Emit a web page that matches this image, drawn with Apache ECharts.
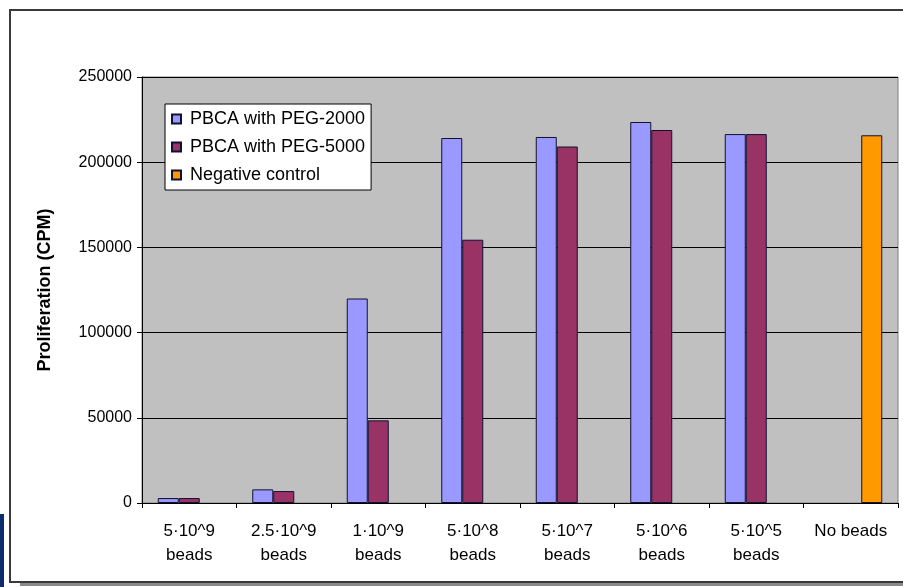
<!DOCTYPE html>
<html>
<head>
<meta charset="utf-8">
<script src="https://cdn.jsdelivr.net/npm/echarts@6/dist/echarts.min.js"></script>
<style>
  html, body { margin: 0; padding: 0; background: #ffffff; }
  #chart { width: 903px; height: 587px; }
</style>
</head>
<body>
<div id="chart"></div>
<script>
// Bead doses on the x axis
const categories = [
  '5·10^9\nbeads', '2.5·10^9\nbeads', '1·10^9\nbeads', '5·10^8\nbeads',
  '5·10^7\nbeads', '5·10^6\nbeads', '5·10^5\nbeads', 'No beads'
];
// Proliferation (CPM) per dose
const peg2000 = [2900, 8000, 120000, 214200, 214800, 223600, 216500, null];
const peg5000 = [2900, 7000, 48500, 154500, 209200, 218900, 216500, null];
const negativeControl = [null, null, null, null, null, null, null, 215800];
const yTicks = { min: 0, max: 250000, interval: 50000 };

const FONT = '"Liberation Sans", Arial, sans-serif';

const chart = echarts.init(document.getElementById('chart'), null, { renderer: 'canvas' });

const barBorder = { borderColor: '#101030', borderWidth: 1 };

chart.setOption({
  backgroundColor: '#ffffff',
  animation: false,
  textStyle: { fontFamily: FONT },
  graphic: [
    // drop shadow under the chart frame
    { type: 'rect', shape: { x: 20, y: 582, width: 900, height: 4 }, style: { fill: '#8a8a8a' }, z: -2 },
    // chart frame
    { type: 'rect', shape: { x: 10, y: 10, width: 910, height: 572 },
      style: { fill: '#ffffff', stroke: '#3a3a3a', lineWidth: 2 }, z: -1 },
    // slide accent on the left edge
    { type: 'rect', shape: { x: 0, y: 514, width: 4, height: 73 }, style: { fill: '#0c2d6b' }, z: 1 }
  ],
  grid: {
    left: 142, right: 5, top: 77, bottom: 84,
    show: true, backgroundColor: '#c0c0c0', borderColor: '#808080', borderWidth: 1
  },
  legend: {
    orient: 'vertical',
    left: 165, top: 104,
    backgroundColor: '#ffffff',
    borderColor: '#000000', borderWidth: 1,
    padding: [5, 6, 5, 6],
    itemWidth: 9, itemHeight: 9, itemGap: 8,
    icon: 'rect',
    textStyle: { fontFamily: FONT, fontSize: 18, color: '#000000', lineHeight: 20, padding: [0, 0, 0, 4] },
    data: ['PBCA with PEG-2000', 'PBCA with PEG-5000', 'Negative control']
  },
  xAxis: {
    type: 'category',
    data: categories,
    axisLine: { lineStyle: { color: '#000000', width: 1 } },
    axisTick: { show: true, length: 5, lineStyle: { color: '#000000' } },
    axisLabel: { interval: 0, fontFamily: FONT, fontSize: 17, color: '#000000', lineHeight: 24, margin: 16 },
    splitLine: { show: false }
  },
  yAxis: {
    type: 'value',
    min: yTicks.min, max: yTicks.max, interval: yTicks.interval,
    name: 'Proliferation (CPM)',
    nameLocation: 'middle', nameRotate: 90, nameGap: 88,
    nameTextStyle: { fontFamily: FONT, fontSize: 18, fontWeight: 'bold', color: '#000000' },
    axisLine: { show: true, lineStyle: { color: '#000000', width: 1 } },
    axisTick: { show: true, length: 5, lineStyle: { color: '#000000' } },
    axisLabel: { fontFamily: FONT, fontSize: 16, color: '#000000', margin: 10,
      formatter: (v) => String(v) },
    splitLine: { show: true, lineStyle: { color: '#000000', width: 1 } }
  },
  series: [
    { name: 'PBCA with PEG-2000', type: 'bar', data: peg2000, barWidth: 21, barGap: '0%',
      itemStyle: Object.assign({ color: '#9999ff' }, barBorder) },
    { name: 'PBCA with PEG-5000', type: 'bar', data: peg5000, barWidth: 21, barGap: '0%',
      itemStyle: Object.assign({ color: '#993366' }, barBorder) },
    { name: 'Negative control', type: 'bar', data: negativeControl, barWidth: 21, barGap: '0%',
      itemStyle: Object.assign({ color: '#ff9900' }, barBorder) }
  ]
});
</script>
</body>
</html>
